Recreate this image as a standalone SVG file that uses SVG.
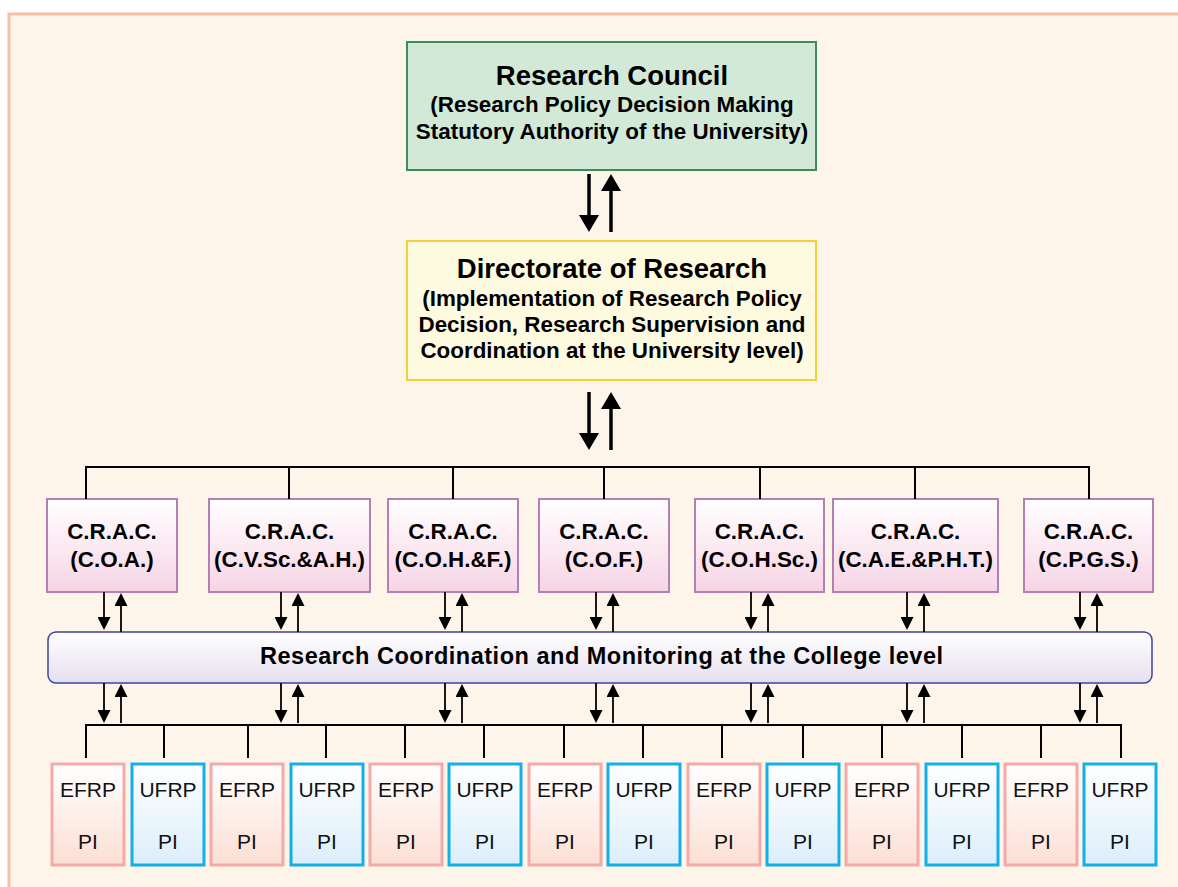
<svg xmlns="http://www.w3.org/2000/svg" width="1178" height="887" viewBox="0 0 1178 887">
<defs>
<linearGradient id="gCrac" x1="0" y1="0" x2="0" y2="1"><stop offset="0" stop-color="#ffffff"/><stop offset="1" stop-color="#f7d4e5"/></linearGradient>
<linearGradient id="gBar" x1="0" y1="0" x2="0" y2="1"><stop offset="0" stop-color="#ffffff"/><stop offset="1" stop-color="#e5dfee"/></linearGradient>
<linearGradient id="gE" x1="0" y1="0" x2="0" y2="1"><stop offset="0" stop-color="#ffffff"/><stop offset="1" stop-color="#fcdfd4"/></linearGradient>
<linearGradient id="gU" x1="0" y1="0" x2="0" y2="1"><stop offset="0" stop-color="#ffffff"/><stop offset="1" stop-color="#dceefb"/></linearGradient>
<marker id="big" viewBox="0 0 17 20" refX="12" refY="10" markerWidth="17" markerHeight="20" markerUnits="userSpaceOnUse" orient="auto"><path d="M0,0 L17,10 L0,20 z" fill="#000"/></marker>
<marker id="sm" viewBox="0 0 13 13" refX="9" refY="6.5" markerWidth="13" markerHeight="13" markerUnits="userSpaceOnUse" orient="auto"><path d="M0,0 L13,6.5 L0,13 z" fill="#000"/></marker>
</defs>
<style>
.t{font-family:"Liberation Sans",Arial,sans-serif;fill:#000;text-anchor:middle}
.b{font-weight:bold}
.crac rect{fill:url(#gCrac);stroke:#b47fb4;stroke-width:2}
.crac text{font-size:22.4px}
.ef rect{fill:url(#gE);stroke:#f4aaa9;stroke-width:3}
.uf rect{fill:url(#gU);stroke:#12b0ea;stroke-width:3}
.ef text,.uf text{font-size:21px;fill:#111}
.ln{stroke:#000;stroke-width:2;fill:none}
.ab{stroke:#000;stroke-width:3.5;marker-end:url(#big)}
.as{stroke:#000;stroke-width:1.8;marker-end:url(#sm)}
</style>
<rect x="0" y="0" width="1178" height="887" fill="#ffffff"/>
<rect x="9" y="14" width="1200" height="900" fill="#fef5ea" stroke="#f8bfa6" stroke-width="3"/>

<g id="council">
<rect x="407" y="42" width="409" height="128" fill="#d2e9d8" stroke="#3d8c5c" stroke-width="2"/>
<text class="t b" x="612" y="85" font-size="27.5">Research Council</text>
<text class="t b" x="612" y="112" font-size="22.4">(Research Policy Decision Making</text>
<text class="t b" x="612" y="139" font-size="22.4">Statutory Authority of the University)</text>
</g>

<g id="directorate">
<rect x="407" y="241" width="409" height="139" fill="#fefae0" stroke="#f5cf3a" stroke-width="2"/>
<text class="t b" x="612" y="278" font-size="27.5">Directorate of Research</text>
<text class="t b" x="612" y="306" font-size="22.4">(Implementation of Research Policy</text>
<text class="t b" x="612" y="332" font-size="22.4">Decision, Research Supervision and</text>
<text class="t b" x="612" y="358" font-size="22.4">Coordination at the University level)</text>
</g>

<g id="crac1" class="crac"><rect x="47" y="499" width="130" height="93"/><text class="t b" x="112" y="539">C.R.A.C.</text><text class="t b" x="112" y="567">(C.O.A.)</text></g>
<g id="crac2" class="crac"><rect x="209" y="499" width="161" height="93"/><text class="t b" x="289.5" y="539">C.R.A.C.</text><text class="t b" x="289.5" y="567">(C.V.Sc.&amp;A.H.)</text></g>
<g id="crac3" class="crac"><rect x="388" y="499" width="130" height="93"/><text class="t b" x="453" y="539">C.R.A.C.</text><text class="t b" x="453" y="567">(C.O.H.&amp;F.)</text></g>
<g id="crac4" class="crac"><rect x="539" y="499" width="130" height="93"/><text class="t b" x="604" y="539">C.R.A.C.</text><text class="t b" x="604" y="567">(C.O.F.)</text></g>
<g id="crac5" class="crac"><rect x="695" y="499" width="129" height="93"/><text class="t b" x="759.5" y="539">C.R.A.C.</text><text class="t b" x="759.5" y="567">(C.O.H.Sc.)</text></g>
<g id="crac6" class="crac"><rect x="833" y="499" width="165" height="93"/><text class="t b" x="915.5" y="539">C.R.A.C.</text><text class="t b" x="915.5" y="567">(C.A.E.&amp;P.H.T.)</text></g>
<g id="crac7" class="crac"><rect x="1024" y="499" width="129" height="93"/><text class="t b" x="1088.5" y="539">C.R.A.C.</text><text class="t b" x="1088.5" y="567">(C.P.G.S.)</text></g>

<g id="coordination">
<rect x="48" y="632" width="1104" height="51" rx="8" fill="url(#gBar)" stroke="#3d44a0" stroke-width="1.5"/>
<text class="t b" x="601.5" y="664" font-size="23.5" textLength="683" lengthAdjust="spacing">Research Coordination and Monitoring at the College level</text>
</g>

<g id="projects">
<g id="p1" class="ef"><rect x="52" y="764" width="72" height="101"/><text class="t" x="88" y="797">EFRP</text><text class="t" x="88" y="849">PI</text></g>
<g id="p2" class="uf"><rect x="132" y="764" width="72" height="101"/><text class="t" x="168" y="797">UFRP</text><text class="t" x="168" y="849">PI</text></g>
<g id="p3" class="ef"><rect x="211" y="764" width="72" height="101"/><text class="t" x="247" y="797">EFRP</text><text class="t" x="247" y="849">PI</text></g>
<g id="p4" class="uf"><rect x="291" y="764" width="72" height="101"/><text class="t" x="327" y="797">UFRP</text><text class="t" x="327" y="849">PI</text></g>
<g id="p5" class="ef"><rect x="370" y="764" width="72" height="101"/><text class="t" x="406" y="797">EFRP</text><text class="t" x="406" y="849">PI</text></g>
<g id="p6" class="uf"><rect x="449" y="764" width="72" height="101"/><text class="t" x="485" y="797">UFRP</text><text class="t" x="485" y="849">PI</text></g>
<g id="p7" class="ef"><rect x="529" y="764" width="72" height="101"/><text class="t" x="565" y="797">EFRP</text><text class="t" x="565" y="849">PI</text></g>
<g id="p8" class="uf"><rect x="608" y="764" width="72" height="101"/><text class="t" x="644" y="797">UFRP</text><text class="t" x="644" y="849">PI</text></g>
<g id="p9" class="ef"><rect x="688" y="764" width="72" height="101"/><text class="t" x="724" y="797">EFRP</text><text class="t" x="724" y="849">PI</text></g>
<g id="p10" class="uf"><rect x="767" y="764" width="72" height="101"/><text class="t" x="803" y="797">UFRP</text><text class="t" x="803" y="849">PI</text></g>
<g id="p11" class="ef"><rect x="846" y="764" width="72" height="101"/><text class="t" x="882" y="797">EFRP</text><text class="t" x="882" y="849">PI</text></g>
<g id="p12" class="uf"><rect x="926" y="764" width="72" height="101"/><text class="t" x="962" y="797">UFRP</text><text class="t" x="962" y="849">PI</text></g>
<g id="p13" class="ef"><rect x="1005" y="764" width="72" height="101"/><text class="t" x="1041" y="797">EFRP</text><text class="t" x="1041" y="849">PI</text></g>
<g id="p14" class="uf"><rect x="1084" y="764" width="72" height="101"/><text class="t" x="1120" y="797">UFRP</text><text class="t" x="1120" y="849">PI</text></g>
</g>

<g id="connectors">
<line class="ab" x1="589" y1="174" x2="589" y2="227"/>
<line class="ab" x1="611" y1="232" x2="611" y2="179"/>
<line class="ab" x1="589" y1="392" x2="589" y2="445"/>
<line class="ab" x1="611" y1="450" x2="611" y2="397"/>
<path class="ln" d="M86,499 V467 H1089 V499 M289,467 V499 M453,467 V499 M604,467 V499 M760,467 V499 M915,467 V499"/>
<path class="ln" d="M86,758 V725 H1121 V758 M164,725 V758 M248,725 V758 M326,725 V758 M405,725 V758 M484,725 V758 M564,725 V758 M643,725 V758 M722,725 V758 M803,725 V758 M882,725 V758 M962,725 V758 M1041,725 V758"/>
<g id="upper-arrows">
<line class="as" x1="104" y1="592" x2="104" y2="626"/><line class="as" x1="121" y1="632" x2="121" y2="597"/>
<line class="as" x1="281" y1="592" x2="281" y2="626"/><line class="as" x1="298" y1="632" x2="298" y2="597"/>
<line class="as" x1="445" y1="592" x2="445" y2="626"/><line class="as" x1="462" y1="632" x2="462" y2="597"/>
<line class="as" x1="596" y1="592" x2="596" y2="626"/><line class="as" x1="613" y1="632" x2="613" y2="597"/>
<line class="as" x1="751" y1="592" x2="751" y2="626"/><line class="as" x1="768" y1="632" x2="768" y2="597"/>
<line class="as" x1="907" y1="592" x2="907" y2="626"/><line class="as" x1="924" y1="632" x2="924" y2="597"/>
<line class="as" x1="1080" y1="592" x2="1080" y2="626"/><line class="as" x1="1097" y1="632" x2="1097" y2="597"/>
</g>
<g id="lower-arrows">
<line class="as" x1="104" y1="683" x2="104" y2="719"/><line class="as" x1="121" y1="723" x2="121" y2="688"/>
<line class="as" x1="281" y1="683" x2="281" y2="719"/><line class="as" x1="298" y1="723" x2="298" y2="688"/>
<line class="as" x1="445" y1="683" x2="445" y2="719"/><line class="as" x1="462" y1="723" x2="462" y2="688"/>
<line class="as" x1="596" y1="683" x2="596" y2="719"/><line class="as" x1="613" y1="723" x2="613" y2="688"/>
<line class="as" x1="751" y1="683" x2="751" y2="719"/><line class="as" x1="768" y1="723" x2="768" y2="688"/>
<line class="as" x1="907" y1="683" x2="907" y2="719"/><line class="as" x1="924" y1="723" x2="924" y2="688"/>
<line class="as" x1="1080" y1="683" x2="1080" y2="719"/><line class="as" x1="1097" y1="723" x2="1097" y2="688"/>
</g>
</g>
</svg>
